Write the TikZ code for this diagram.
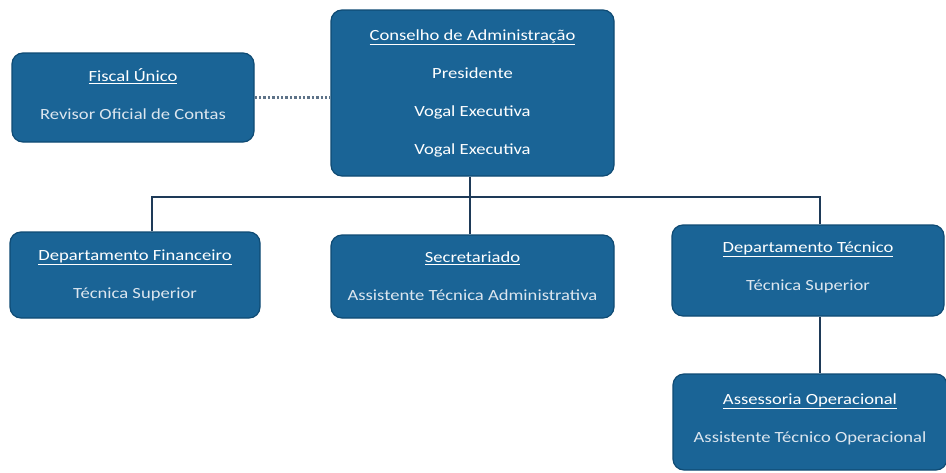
\documentclass[tikz,border=0pt]{standalone}
\usepackage{fontspec}
\setmainfont[FakeStretch=1.2]{Carlito}
\definecolor{boxblue}{HTML}{1A6496}
\definecolor{boxedge}{HTML}{0F4B74}
\definecolor{linenavy}{HTML}{1E3A58}
\definecolor{subtext}{HTML}{DCE6EF}
\definecolor{dotgray}{HTML}{5E7388}
\newcommand{\lift}[2]{\raisebox{#1}[\height][\depth]{#2}}
\begin{document}
\begin{tikzpicture}[x=1pt,y=-1pt,
  orgbox/.style={draw=boxedge,line width=1.2pt,fill=boxblue,rounded corners=11pt,
    text=white,align=center,inner sep=0pt,font=\fontsize{15.5}{18}\selectfont},
  conn/.style={draw=linenavy,line width=2.8pt},
  dotconn/.style={draw=dotgray,line width=2.4pt,dotted}]
\useasboundingbox (0,0) rectangle (946,472);
\fill[white] (0,0) rectangle (946,472);

\node[orgbox,minimum width=242pt,minimum height=89pt] (fiscal) at (133,97.5)
  {\lift{3pt}{\underline{Fiscal Único}}\\[20pt]\lift{3pt}{\color{subtext}Revisor Oficial de Contas}};
\node[orgbox,minimum width=283pt,minimum height=166pt] (conselho) at (472.5,93)
  {\underline{Conselho de Administração}\\[20pt]Presidente\\[20pt]Vogal Executiva\\[20pt]Vogal Executiva};
\node[orgbox,minimum width=250pt,minimum height=86pt] (financeiro) at (135,275)
  {\underline{Departamento Financeiro}\\[20pt]{\color{subtext}Técnica Superior}};
\node[orgbox,minimum width=283pt,minimum height=83pt] (secretariado) at (472.5,276.5)
  {\underline{Secretariado}\\[20pt]{\color{subtext}Assistente Técnica Administrativa}};
\node[orgbox,minimum width=272pt,minimum height=91pt] (tecnico) at (808,270.5)
  {\lift{3pt}{\underline{Departamento Técnico}}\\[20pt]\lift{3pt}{\color{subtext}Técnica Superior}};
\node[orgbox,minimum width=274pt,minimum height=96pt] (assessoria) at (810,422)
  {\lift{3pt}{\underline{Assessoria Operacional}}\\[20pt]\lift{3pt}{\color{subtext}Assistente Técnico Operacional}};

\coordinate (bus) at (470,197);
\draw[conn] (conselho.south -| bus) -- (secretariado.north -| bus);
\draw[conn] (financeiro.north -| 152,0) |- (bus) -| (tecnico.north -| 820,0);
\draw[conn] (tecnico.south -| 820,0) -- (assessoria.north -| 820,0);
\draw[dotconn] (fiscal.east) -- (conselho.west |- fiscal.east);
\end{tikzpicture}
\end{document}
